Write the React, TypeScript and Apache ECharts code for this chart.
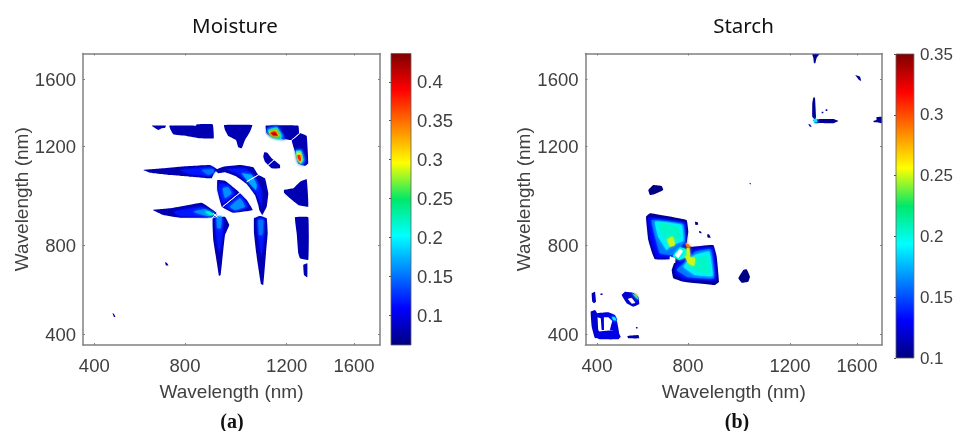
import React, { useEffect, useRef } from "react";
import * as echarts from "echarts";

// Axes are in band index (the wavelength scale is not linear), labels are placed at their bands.
const tickLabels = [400, 800, 1200, 1600];
const leftXBands = [11.3, 102, 203.7, 271];
const rightXBands = [11.5, 102.5, 204.5, 271.5];
const yBands = [11, 100, 199, 266];
const leftBandCountX = 297;
const rightBandCountX = 296.5;
const bandCountY = 291.5;

const moistureTicks = [0.1, 0.15, 0.2, 0.25, 0.3, 0.35, 0.4];
const moistureRange = [0.0615, 0.4365];
const starchTicks = [0.1, 0.15, 0.2, 0.25, 0.3, 0.35];
const starchRange = [0.1, 0.35];
const jetColors = ["#00007f", "#0000ff", "#0080ff", "#00ffff", "#00e86a", "#ffff00", "#ff8000", "#ff0000", "#7f0000"];

type Blob = [number, number[]];

// [correlation level, x,y,x,y,... in band index]
const moistureBlobs: Blob[] = [
  [0.08, [68.7, 219.3, 83, 219.3, 82, 217.3, 78.7, 216.7, 75.3, 215, 72, 217]],
  [0.08, [86.3, 219.3, 113, 219.3, 113.7, 220.7, 129.7, 220.7, 130.7, 206.7, 117, 206.7, 103.7, 209, 90.3, 210.7, 87.7, 215]],
  [0.08, [141, 220, 169.3, 220, 167, 213.3, 162, 205, 158.7, 196.7, 155.3, 197.7, 153, 205, 145.3, 209, 142, 215]],
  [0.08, [182.7, 219.3, 215.3, 219.3, 216, 211.7, 208.7, 205, 200.3, 206, 188.7, 208.3, 183.7, 211.7]],
  [0.08, [216.5, 212, 223.7, 209, 225.3, 181.7, 222, 179, 215.3, 181.7, 212, 193.3, 208.7, 204.8]],
  [0.13, [184, 217, 194, 219, 200.5, 210, 202, 205.5, 190, 207.5, 184, 211.5]],
  [0.19, [185, 215, 194, 217.5, 198.5, 210, 198.5, 206, 189, 208]],
  [0.25, [185.5, 214, 193.5, 216, 197.5, 209, 196, 206.5, 188, 208.5]],
  [0.3, [186, 213, 193, 215, 196.5, 209, 189, 209]],
  [0.36, [187, 212.3, 192.3, 214, 195.5, 209, 189.7, 209.3]],
  [0.41, [188, 211.8, 192, 212.5, 194.5, 209.3, 190.3, 210]],
  [0.13, [212.7, 195, 218.7, 195.7, 222.7, 185, 220.3, 180, 215.3, 181.7]],
  [0.21, [213, 194, 218, 194, 220.5, 185, 218, 181, 214, 185]],
  [0.3, [213.7, 192, 217.5, 192, 219, 185, 217.5, 182.5, 214.5, 186]],
  [0.38, [214.5, 190, 217, 190, 218, 185, 217, 183.5, 215, 186.5]],
  [0.08, [181.3, 192.7, 184.3, 192.3, 188.7, 186.7, 197, 180, 197, 176.7, 188.7, 176.7, 182, 183.3, 180.3, 188.3]],
  [0.08, [201, 155, 210.3, 156.7, 217, 163.3, 223.7, 165.7, 225.3, 138.3, 215.3, 140, 207, 146.7, 201, 152.3]],
  [0.08, [212, 127.7, 225.3, 127.7, 225.3, 85, 217, 86.7, 215.3, 91.7, 213.7, 111.7]],
  [0.08, [220.3, 80, 224.3, 81.7, 224.3, 67.7, 221, 70]],
  [0.08, [60.3, 175, 80.3, 176.7, 97, 178.3, 127, 180, 134.3, 175.7, 131, 171.7, 128.7, 166.7, 107, 168.3, 87, 170, 67, 172.3]],
  [0.115, [97, 175, 128.7, 177.7, 132, 174.3, 127, 169, 107, 171]],
  [0.15, [118.7, 175, 130.3, 175.7, 131, 172.7, 125.3, 170]],
  [0.08, [132, 175, 140.3, 178.3, 157, 180, 170.3, 177.7, 175.3, 170, 182, 166.7, 185.3, 151.7, 183.7, 138.3, 179.3, 130, 176.3, 135, 175.3, 140, 172, 150, 163.7, 161, 153.7, 168.3, 142, 172.7, 135.3, 171.7]],
  [0.115, [143.7, 175.7, 162, 176.7, 172, 168.3, 178.7, 155, 178.7, 138.3, 175.3, 148.3, 165.3, 163.3, 153.7, 171.7]],
  [0.17, [158.7, 171.7, 168.7, 170, 173.7, 160, 173, 155, 165.3, 163.3]],
  [0.08, [134.3, 165, 142, 164.3, 153.7, 155, 163.7, 145, 169.7, 135, 150.3, 132.3, 138.7, 138.3, 134.3, 155]],
  [0.115, [137, 161.7, 145.3, 160, 152, 151.7, 140.3, 141.7, 135.3, 155]],
  [0.115, [142, 138.3, 157, 150, 165.3, 138.3, 152, 134]],
  [0.16, [147, 138.3, 157, 146.7, 162, 138.3, 152, 135]],
  [0.16, [139.7, 156.7, 145.3, 157.7, 148.7, 151.7, 142, 146.7]],
  [0.08, [69.7, 135, 87, 136.7, 118.7, 142.3, 125.3, 138.3, 134.3, 131.7, 132, 127.7, 123.7, 127.3, 97, 127.3, 80.3, 130]],
  [0.115, [90.3, 133.3, 118.7, 138.3, 132, 131, 125.3, 128.3, 97, 129]],
  [0.16, [110.3, 133.3, 122, 135.7, 132, 130.3, 123.7, 129]],
  [0.22, [122, 133.3, 127, 133.3, 132, 129.7, 127, 129.7]],
  [0.08, [129.7, 126.7, 142, 128.3, 146.3, 120, 142, 110, 140.3, 95, 137.7, 70, 136, 69, 133.7, 83.3, 130.3, 105]],
  [0.115, [133, 126.7, 139.7, 126.7, 139.7, 111.7, 136.3, 91.7, 133, 111.7]],
  [0.16, [133.7, 128.3, 138.7, 128.3, 137.7, 116.7, 134.3, 116.7]],
  [0.08, [171, 126.7, 177, 129, 183.7, 126.7, 184.7, 111.7, 182.7, 88.3, 180.3, 60, 178, 61, 173.7, 88.3, 171, 111.7]],
  [0.115, [174.3, 126.7, 181, 126.7, 181, 108.3, 178.7, 88.3, 175.3, 108.3]],
  [0.15, [175.3, 125, 180.3, 125, 179.3, 110, 176.3, 110]],
  [0.08, [82, 83, 84, 82, 85.5, 79.5, 83, 79.5]],
  [0.08, [29.5, 32, 31, 31, 32.5, 28, 31, 28]],
];

const moistureGaps: number[][] = [
  [163.7, 163.3, 175.3, 170],
  [139.7, 138.3, 157, 152.3],
  [185.3, 180, 191, 185],
  [208.7, 205, 216.7, 211.5],
  [130.3, 131.7, 134.3, 127.7],
  [128.7, 126.7, 135.7, 133.3],
];

const starchBlobs: Blob[] = [
  [0.105, [60.5, 128.3, 64.5, 131.7, 101, 125, 102.8, 113.3, 101, 100, 106, 98.3, 127.8, 100, 131.2, 88.3, 133.5, 63.3, 129.5, 60, 97.8, 63.3, 87.8, 66.7, 86.2, 75, 89.5, 85.7, 69.5, 85.7, 66.2, 93.3, 62.8, 105]],
  [0.13, [62.8, 127.7, 99.5, 122.3, 100.5, 101.7, 87.8, 87.7, 71.2, 87.7, 65.2, 105]],
  [0.16, [66.2, 125, 97.8, 121, 99.5, 103.3, 86.2, 90, 74.5, 91.7, 69.5, 108.3]],
  [0.19, [69.5, 123.3, 96.2, 120, 97.8, 104.3, 86.2, 100, 81.2, 95, 72.8, 108.3]],
  [0.205, [72.8, 122.3, 92.8, 118.3, 94.5, 106.7, 89.5, 105, 81.2, 105, 76.2, 111.7]],
  [0.13, [106.2, 95.7, 127.2, 97.7, 130.5, 65, 97.8, 65.7, 89.5, 71.7, 91.2, 81.7, 101.2, 91.7]],
  [0.16, [109.5, 93.3, 125.2, 95.7, 128.5, 66.7, 102.8, 67.7, 91.2, 75, 102.8, 85.7]],
  [0.19, [109.5, 90, 123.8, 93.3, 127.2, 69, 109.5, 70, 97.8, 78.3]],
  [0.205, [109.5, 86.7, 121.8, 89, 124.5, 71.7, 112.8, 73.3, 102.8, 80]],
  [0.2, [87.2, 89, 94.5, 97.7, 100, 96, 105, 90, 93.8, 85]],
  [0.25, [81.8, 105.7, 87.2, 108.3, 89.5, 100, 84.5, 98.3]],
  [0.25, [99.5, 89, 109.5, 86.7, 108.5, 79, 102.8, 81.7]],
  [0.25, [101.2, 97, 104, 97, 104.5, 88, 101.5, 88]],
  [0.29, [99.5, 102, 104, 100, 104.5, 97, 101.5, 98]],
  [0.102, [62.8, 155, 67.8, 160, 76.2, 159, 77.8, 155, 69.5, 151, 64.5, 150]],
  [0.102, [152.8, 66.7, 157.8, 75, 161.2, 75.7, 164.5, 68.3, 162.8, 63.3, 156.2, 62.3]],
  [0.105, [109.5, 123.3, 112, 123, 112.8, 120.5, 110, 120]],
  [0.105, [113.5, 114, 115.5, 113.5, 116.2, 111.7, 114, 112]],
  [0.105, [121.8, 110.7, 123.5, 110.7, 125.2, 107.3, 122, 107.5]],
  [0.105, [163.8, 162.3, 165, 162, 165.5, 160.7, 164.5, 160.7]],
  [0.12, [36.2, 50, 39.5, 53.3, 47.8, 52.3, 52.8, 48.3, 53.8, 41, 47.8, 38.3, 41.2, 41.7]],
  [0.2, [46.2, 51.7, 51.8, 49, 52.8, 45, 49.5, 48.3]],
  [0.28, [49.5, 51.7, 51.8, 49.7, 51.8, 48.3, 49.5, 50]],
  [0.115, [6.2, 51.7, 9.5, 53.3, 10.5, 43.3, 8.5, 41.7, 6.8, 43.3]],
  [0.115, [15, 51.5, 17, 51.5, 17, 50, 15, 50]],
  [0.12, [5.2, 33.3, 9.5, 35, 11.8, 31.7, 12.8, 15, 16.2, 10, 9.5, 6.7, 6.2, 18.3]],
  [0.125, [11.2, 31.7, 22.8, 32.7, 29.5, 30, 31.8, 25, 27.8, 23.3, 22.8, 27.7, 18.5, 27.7, 18.5, 15, 16.2, 15, 15.2, 26.7, 11.8, 27.7]],
  [0.125, [27.2, 25, 31.2, 25, 33.8, 10, 27.8, 10, 27.8, 15, 24.5, 15]],
  [0.125, [12.8, 13.3, 31.2, 15, 35.2, 8.3, 32.8, 5.7, 14.5, 5.7, 9.5, 7.7]],
  [0.19, [26.2, 28.3, 29.5, 27.7, 31.2, 24.3, 27.8, 25]],
  [0.11, [41.8, 9, 52.8, 10, 53.8, 6.7, 42.8, 6.7]],
  [0.12, [50.5, 18, 52, 18, 52, 16.5, 50.5, 16.5]],
  [0.105, [226.8, 290.7, 233.8, 290.7, 231.2, 287.3, 229.8, 281.7, 228.5, 281.7, 227.8, 287.3]],
  [0.105, [269.8, 270, 274.5, 268.3, 275.8, 264, 273.5, 265]],
  [0.105, [227.8, 247.3, 229.5, 247.3, 230.5, 228.3, 229.8, 225, 226.8, 228.3, 226.8, 241.7]],
  [0.105, [227.8, 225, 234.5, 226, 247.8, 226, 252.8, 224, 247.8, 221.7, 233.8, 222, 229.5, 221.7]],
  [0.19, [228, 226, 231, 226, 232, 223, 229, 222.5]],
  [0.11, [222.8, 220.7, 224.5, 220.7, 226.2, 218.3, 224.5, 218.3]],
  [0.11, [236.2, 233.3, 237.8, 233.3, 237.8, 231.7, 236.2, 231.7]],
  [0.11, [240.2, 235.7, 241.8, 235.7, 241.8, 234, 240.2, 234]],
  [0.105, [287.8, 224, 291, 225, 291, 228, 296, 228.3, 296, 221.7, 291, 222.7, 288.5, 222.7]],
];

const starchGaps: number[][] = [
  [89.5, 90, 94.5, 95.7, 97.2, 94, 92.8, 87.3],
  [84.5, 88.3, 89.5, 86.7, 89.5, 82.3, 84.5, 83.3],
  [42.8, 46, 46.2, 46.7, 49.5, 42.3, 46.2, 41.7],
];

const FONT = "'Liberation Sans', Arial, sans-serif";
const TEXT = "#404040";
const FRAME = "#808080";

function pts(flat: number[], api: any) {
  const out: number[][] = [];
  for (let i = 0; i < flat.length; i += 2) out.push(api.coord([flat[i], flat[i + 1]]));
  return out;
}

function blobSeries(blobs: Blob[], axisIndex: [number, number], name: string, softAbove: number) {
  return {
    type: "custom",
    name,
    coordinateSystem: "cartesian2d",
    xAxisIndex: axisIndex[0],
    yAxisIndex: axisIndex[1],
    silent: true,
    clip: true,
    encode: { x: 0, y: 1 },
    data: blobs.map((b, i) => [b[1][0], b[1][1], b[0], i]),
    renderItem: (_p: any, api: any) => {
      const color = api.visual("color");
      const soft = api.value(2) > softAbove;
      return {
        type: "polygon",
        shape: { points: pts(blobs[api.value(3)][1], api), smooth: 0.08 },
        style: soft ? { fill: color, shadowBlur: 3, shadowColor: color } : { fill: color },
      };
    },
  };
}

function gapSeries(gaps: number[][], axisIndex: [number, number], name: string) {
  return {
    type: "custom",
    name,
    coordinateSystem: "cartesian2d",
    xAxisIndex: axisIndex[0],
    yAxisIndex: axisIndex[1],
    silent: true,
    encode: { x: 0, y: 1 },
    data: gaps.map((g, i) => [g[0], g[1], i]),
    renderItem: (_p: any, api: any) => ({
      type: "polygon",
      shape: { points: pts(gaps[api.value(2)], api) },
      style: { fill: "#ffffff", stroke: "#ffffff", lineWidth: 0.8 },
    }),
  };
}

function colorbarSeries(range: number[], xi: number, name: string) {
  return {
    type: "custom",
    name,
    coordinateSystem: "cartesian2d",
    xAxisIndex: xi,
    yAxisIndex: xi,
    silent: true,
    clip: false,
    encode: { x: 0, y: 1 },
    data: [[0, range[0], range[1]]],
    renderItem: (_p: any, api: any) => {
      const a = api.coord([0, api.value(1)]);
      const b = api.coord([1, api.value(2)]);
      return {
        type: "rect",
        shape: { x: a[0], y: b[1], width: b[0] - a[0], height: a[1] - b[1] },
        style: {
          stroke: "#606060",
          lineWidth: 0.8,
          fill: new echarts.graphic.LinearGradient(0, 1, 0, 0,
            jetColors.map((color, i) => ({ offset: i / (jetColors.length - 1), color }))),
        },
      };
    },
  };
}

function bandX(bands: number[], max: number, gridIndex: number, position: "bottom" | "top") {
  const labelled = position === "bottom";
  return {
    type: "value", gridIndex, position, min: 0, max,
    splitLine: { show: false },
    axisLine: { show: true, onZero: false, lineStyle: { color: FRAME, width: 1.5 } },
    axisTick: { show: true, inside: true, length: 2, customValues: bands, lineStyle: { color: FRAME, width: 1 } },
    axisLabel: {
      show: labelled, customValues: bands, margin: 11, color: TEXT, fontFamily: FONT, fontSize: 18.5,
      formatter: (v: number) => String(tickLabels[bands.indexOf(v)]),
    },
    name: labelled ? "Wavelength (nm)" : "",
    nameLocation: "middle",
    nameGap: 37,
    nameTextStyle: { color: TEXT, fontFamily: FONT, fontSize: 19 },
  };
}

function bandY(gridIndex: number, position: "left" | "right") {
  const labelled = position === "left";
  return {
    type: "value", gridIndex, position, min: 0, max: bandCountY,
    splitLine: { show: false },
    axisLine: { show: true, onZero: false, lineStyle: { color: FRAME, width: 1.5 } },
    axisTick: { show: true, inside: true, length: 2, customValues: yBands, lineStyle: { color: FRAME, width: 1 } },
    axisLabel: {
      show: labelled, customValues: yBands, margin: 7, color: TEXT, fontFamily: FONT, fontSize: 18.5,
      formatter: (v: number) => String(tickLabels[yBands.indexOf(v)]),
    },
    name: labelled ? "Wavelength (nm)" : "",
    nameLocation: "middle",
    nameGap: 52,
    nameTextStyle: { color: TEXT, fontFamily: FONT, fontSize: 19 },
  };
}

function cbX(gridIndex: number) {
  return { type: "value", gridIndex, min: 0, max: 1, show: false };
}

function cbY(gridIndex: number, range: number[], ticks: number[], fontSize: number) {
  return {
    type: "value", gridIndex, position: "right", min: range[0], max: range[1],
    splitLine: { show: false },
    axisLine: { show: false },
    axisTick: { show: true, inside: true, length: 2, customValues: ticks, lineStyle: { color: "#505050", width: 1 } },
    axisLabel: {
      customValues: ticks, margin: 6, color: TEXT, fontFamily: FONT, fontSize,
      formatter: (v: number) => String(v),
    },
  };
}

function caption(letter: string, left: number) {
  return {
    text: "{p|(}{b|" + letter + "}{p|)}",
    left, top: 411, padding: 0, textAlign: "center",
    textStyle: {
      rich: {
        p: { fontFamily: "'Liberation Serif', serif", fontSize: 20, color: "#111" },
        b: { fontFamily: "'Liberation Serif', serif", fontSize: 20, fontWeight: "bold", color: "#111" },
      },
    },
  };
}

function heading(text: string, left: number) {
  return {
    text, left, top: 14, padding: 0, textAlign: "center",
    textStyle: { fontFamily: "'Noto Sans', sans-serif", fontSize: 20.5, fontWeight: "normal", color: "#111" },
  };
}

export default function App() {
  const ref = useRef<HTMLDivElement>(null);
  useEffect(() => {
    const chart = echarts.init(ref.current!, undefined, { renderer: "svg" });
    chart.setOption({
      animation: false,
      backgroundColor: "#ffffff",
      title: [heading("Moisture", 235), heading("Starch", 743.5), caption("a", 232), caption("b", 737)],
      grid: [
        { left: 83, top: 53.5, width: leftBandCountX, height: bandCountY },
        { left: 585.5, top: 53.5, width: rightBandCountX, height: bandCountY },
        { left: 391, top: 53.5, width: 20, height: 291.5 },
        { left: 896, top: 54, width: 19, height: 304 },
      ],
      xAxis: [
        bandX(leftXBands, leftBandCountX, 0, "bottom"),
        bandX(leftXBands, leftBandCountX, 0, "top"),
        bandX(rightXBands, rightBandCountX, 1, "bottom"),
        bandX(rightXBands, rightBandCountX, 1, "top"),
        cbX(2),
        cbX(3),
      ],
      yAxis: [
        bandY(0, "left"),
        bandY(0, "right"),
        bandY(1, "left"),
        bandY(1, "right"),
        cbY(2, moistureRange, moistureTicks, 18.5),
        cbY(3, starchRange, starchTicks, 17),
      ],
      visualMap: [
        { type: "continuous", show: false, seriesIndex: 0, dimension: 2, min: moistureRange[0], max: moistureRange[1], inRange: { color: jetColors } },
        { type: "continuous", show: false, seriesIndex: 2, dimension: 2, min: starchRange[0], max: starchRange[1], inRange: { color: jetColors } },
      ],
      series: [
        blobSeries(moistureBlobs, [0, 0], "Moisture", 0.1),
        gapSeries(moistureGaps, [0, 0], "Moisture gaps"),
        blobSeries(starchBlobs, [2, 2], "Starch", 0.127),
        gapSeries(starchGaps, [2, 2], "Starch gaps"),
        colorbarSeries(moistureRange, 4, "Moisture scale"),
        colorbarSeries(starchRange, 5, "Starch scale"),
      ],
    });
    return () => chart.dispose();
  }, []);
  return <div ref={ref} style={{ position: "fixed", left: 0, top: 0, width: 956, height: 431, filter: "blur(0.35px)" }} />;
}
